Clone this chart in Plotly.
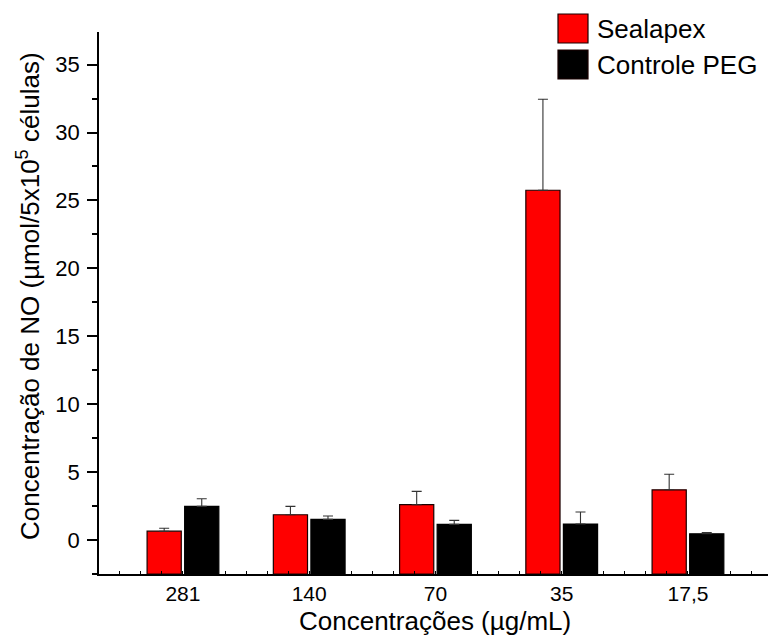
import plotly.graph_objects as go

categories = ["281", "140", "70", "35", "17,5"]
sealapex = [0.65, 1.86, 2.60, 25.75, 3.70]
sealapex_err = [0.22, 0.62, 0.98, 6.70, 1.14]
controle = [2.48, 1.52, 1.15, 1.18, 0.46]
controle_err = [0.56, 0.25, 0.30, 0.88, 0.10]
series_names = ["Sealapex", "Controle PEG"]
series_colors = ["#ff0000", "#000000"]
y_range = [-2.5, 37.4]

xpos = list(range(len(categories)))
FONT = "Arial, Liberation Sans, Helvetica, sans-serif"
base = y_range[0]

fig = go.Figure()
for name, vals, errs, col in [(series_names[0], sealapex, sealapex_err, series_colors[0]),
                              (series_names[1], controle, controle_err, series_colors[1])]:
    fig.add_trace(go.Bar(
        x=xpos, y=[v - base for v in vals], base=base, name=name,
        marker=dict(color=col, line=dict(color="#1a0000" if col != "#000000" else "#000000", width=1.2)),
        error_y=dict(type="data", array=errs, arrayminus=[0] * len(errs), symmetric=False,
                     color="#333333", thickness=1.1, width=5),
        showlegend=False,
    ))

W, H = 768, 635
L, R, T, B = 99, 0, 32, 61
pw, ph = W - L - R, H - T - B

def px(x):
    return (x - L) / pw

def py(y):
    return (H - B - y) / ph

shapes = []
annotations = []
legend_rows = [(14, 43), (50, 79)]
for (y0, y1), name, col in zip(legend_rows, series_names, series_colors):
    shapes.append(dict(type="rect", xref="paper", yref="paper",
                       x0=px(558), x1=px(588), y0=py(y1), y1=py(y0),
                       fillcolor=col, line=dict(color="#1a0000", width=1.2)))
    annotations.append(dict(text=name, xref="paper", yref="paper",
                            x=px(595), y=py((y0 + y1) / 2), xanchor="left", yanchor="middle",
                            showarrow=False, font=dict(family=FONT, size=26, color="#000")))

annotations.append(dict(text="Concentração de NO (µmol/5x10<sup>5</sup> células)",
                        xref="paper", yref="paper", x=px(28), y=py(296),
                        xanchor="center", yanchor="middle", textangle=-90, showarrow=False,
                        font=dict(family=FONT, size=26, color="#000")))
annotations.append(dict(text="Concentrações (µg/mL)",
                        xref="paper", yref="paper", x=px(435), y=py(621),
                        xanchor="center", yanchor="middle", showarrow=False,
                        font=dict(family=FONT, size=26, color="#000")))

fig.update_layout(
    width=W, height=H,
    margin=dict(l=L, r=R, t=T, b=B),
    paper_bgcolor="white", plot_bgcolor="white",
    barmode="group", bargap=0.405, bargroupgap=0.09,
    shapes=shapes, annotations=annotations,
    font=dict(family=FONT, color="#000"),
)
fig.update_xaxes(
    range=[-0.665, (W - L) / 126.25 - 0.665],
    tickmode="array", tickvals=xpos, ticktext=categories,
    showline=True, linecolor="#000", linewidth=1.5,
    ticks="inside", ticklen=3, tickcolor="#000", tickwidth=1,
    minor=dict(ticks="inside", ticklen=3, dtick=1/6, tick0=0, tickcolor="#000", tickwidth=1),
    showgrid=False, zeroline=False,
    tickfont=dict(family=FONT, size=21, color="#000"),
)
fig.update_yaxes(
    range=y_range,
    tickmode="linear", tick0=0, dtick=5,
    showline=True, linecolor="#000", linewidth=1.5,
    ticks="outside", ticklen=10, tickcolor="#000", tickwidth=1.5,
    minor=dict(ticks="outside", ticklen=5, dtick=2.5, tick0=0, tickcolor="#000", tickwidth=1.5),
    showgrid=False, zeroline=False,
    tickfont=dict(family=FONT, size=22, color="#000"),
    ticklabelstandoff=3,
)

fig.write_html("out.html")
